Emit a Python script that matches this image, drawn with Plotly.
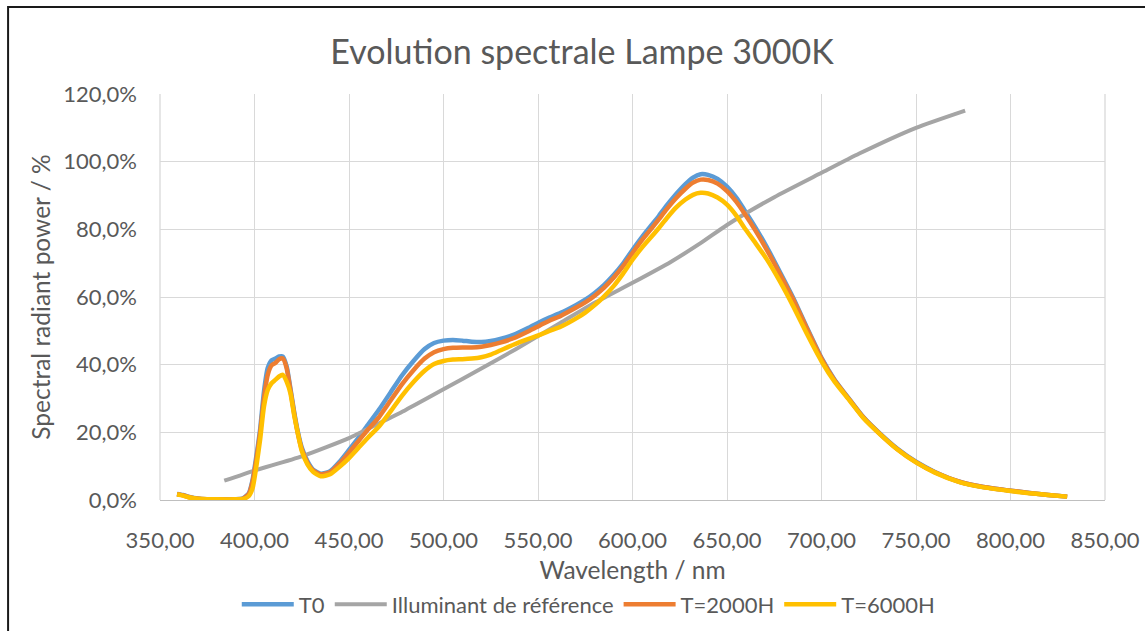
import plotly.graph_objects as go

# Spectral power readings (% of max) for the 3000K lamp at three ageing stages
wl = [359, 362, 365, 368, 372, 380, 390, 394, 397, 399, 401, 403, 405, 407, 409, 411, 413, 415,
      417, 419, 421, 423, 425, 428, 431, 435, 440, 445, 450, 455, 460, 466, 472, 478, 484, 490,
      495, 500, 505, 510, 515, 520, 525, 530, 537, 545, 551, 556, 562, 570, 575, 580, 585, 590, 595,
      600, 605, 610, 614, 618, 623, 628, 632, 636, 640, 645, 650, 655, 659, 665, 671, 678, 685,
      692, 700, 707, 715, 722, 731, 740, 750, 760, 773, 785, 798, 810, 820, 830]
t0 = [1.8, 1.5, 1.0, 0.6, 0.3, 0.2, 0.2, 0.5, 2.0, 6.0, 13.0, 21.0, 32.0, 39.0, 41.3, 41.8, 42.4, 42.4,
      39.5, 33.0, 26.0, 20.0, 15.5, 11.5, 9.0, 7.8, 8.5, 11.3, 14.8, 18.4, 22.2, 26.8, 31.8, 36.8, 41.0, 44.6,
      46.4, 47.1, 47.3, 47.1, 46.8, 46.7, 47.0, 47.6, 48.8, 50.9, 52.6, 53.9, 55.3, 57.6, 59.2, 61.2, 63.6, 66.5, 69.9,
      73.9, 77.7, 81.2, 84.0, 87.0, 90.4, 93.4, 95.3, 96.3, 96.1, 94.9, 92.6, 89.3, 85.9, 80.6, 74.8, 67.4, 59.8,
      51.3, 42.0, 35.5, 29.6, 24.6, 19.6, 15.2, 11.3, 8.3, 5.4, 3.9, 2.9, 2.1, 1.5, 1.0]
t2000 = [1.7, 1.4, 0.9, 0.5, 0.3, 0.2, 0.2, 0.4, 1.8, 5.5, 12.0, 20.0, 30.0, 37.0, 39.8, 40.5, 41.6, 41.8,
         39.0, 32.5, 25.5, 19.5, 15.0, 11.0, 8.7, 7.6, 8.2, 10.8, 14.0, 17.4, 20.8, 24.6, 29.4, 34.2, 38.3, 41.8,
         43.7, 44.6, 45.0, 45.1, 45.1, 45.3, 45.8, 46.5, 47.8, 49.9, 51.6, 53.0, 54.4, 56.8, 58.4, 60.4, 62.8, 65.7, 69.1,
         73.0, 76.8, 80.2, 83.0, 85.9, 89.2, 92.0, 93.8, 94.7, 94.6, 93.5, 91.3, 88.1, 84.9, 79.7, 74.0, 66.8, 59.3,
         51.0, 41.8, 35.3, 29.5, 24.5, 19.5, 15.1, 11.2, 8.2, 5.4, 3.9, 2.9, 2.1, 1.5, 1.0]
t6000 = [1.6, 1.3, 0.8, 0.5, 0.3, 0.2, 0.2, 0.3, 1.2, 3.5, 10.0, 18.0, 27.6, 32.5, 34.5, 35.5, 36.5, 37.0,
         35.0, 31.6, 25.0, 19.5, 14.5, 10.5, 8.3, 7.0, 7.6, 9.8, 12.4, 15.4, 18.4, 21.8, 26.2, 30.8, 34.8, 38.2,
         40.2, 41.1, 41.5, 41.6, 41.8, 42.2, 43.0, 44.2, 45.9, 47.6, 48.8, 50.0, 51.2, 53.6, 55.4, 57.6, 60.2, 63.2, 66.9,
         71.0, 74.6, 77.8, 80.4, 83.2, 86.4, 88.8, 90.2, 90.8, 90.6, 89.4, 87.3, 84.0, 80.6, 76.0, 71.2, 64.6, 57.3,
         49.4, 41.0, 34.9, 29.3, 24.3, 19.4, 15.0, 11.1, 8.1, 5.3, 3.8, 2.8, 2.0, 1.5, 1.0]

# Reference illuminant (blackbody 3000K)
wl_ref = [384, 400, 425, 450, 466, 480, 500, 520, 538, 562, 580, 600, 620, 636, 650, 675, 700, 720, 750, 776]
ref = [5.7, 8.7, 12.9, 18.3, 22.7, 26.6, 32.7, 38.9, 44.5, 52.4, 58.3, 64.2, 70.3, 75.9, 81.3, 89.5, 96.7,
       102.4, 110.0, 115.1]

x_ticks = [350, 400, 450, 500, 550, 600, 650, 700, 750, 800, 850]
y_ticks = [0, 20, 40, 60, 80, 100, 120]
y_ticktext = [f"{v:.1f}%".replace(".", ",") for v in y_ticks]

TEXT = "#595959"
GRID = "#D9D9D9"
FONT = "Lato"
SMOOTH = 0.55

fig = go.Figure()
fig.add_trace(go.Scatter(x=wl, y=t0, name="T0", mode="lines",
                         line=dict(color="#5B9BD5", width=4.5, shape="spline", smoothing=SMOOTH)))
fig.add_trace(go.Scatter(x=wl_ref, y=ref, name="Illuminant de référence", mode="lines",
                         line=dict(color="#A5A5A5", width=4, shape="spline", smoothing=SMOOTH)))
fig.add_trace(go.Scatter(x=wl, y=t2000, name="T=2000H", mode="lines",
                         line=dict(color="#ED7D31", width=4.5, shape="spline", smoothing=SMOOTH)))
fig.add_trace(go.Scatter(x=wl, y=t6000, name="T=6000H", mode="lines",
                         line=dict(color="#FFC000", width=4.5, shape="spline", smoothing=SMOOTH)))

# plot-area geometry in pixels
L, R, T, B = 160, 1105.5, 94, 500.5
W, H = R - L, B - T


def px(x):
    return (x - L) / W


def py(y):
    return (B - y) / H


fig.update_layout(
    width=1145, height=631,
    margin=dict(l=L, r=1145 - R, t=T, b=631 - B, autoexpand=False),
    paper_bgcolor="white", plot_bgcolor="white",
    separators=", ",
    font=dict(family=FONT, color=TEXT, size=22),
    title=dict(text="Evolution spectrale Lampe 3000K", x=582 / 1145, xanchor="center",
               y=1 - 52 / 631, yanchor="middle", xref="container", yref="container",
               font=dict(size=34, color=TEXT, family=FONT)),
    showlegend=True,
    legend=dict(orientation="h", x=px(589), xanchor="center", y=py(605), yanchor="middle",
                font=dict(size=22, color=TEXT, family=FONT), itemwidth=52,
                bgcolor="rgba(0,0,0,0)"),
    hovermode=False,
)
fig.update_xaxes(range=[350, 850], tickvals=x_ticks, tickformat=".2f", automargin=False,
                 showgrid=True, gridcolor=GRID, gridwidth=1.3,
                 showline=True, linecolor="#BFBFBF", linewidth=1.3, mirror=False,
                 zeroline=False, ticks="", ticklabelstandoff=20,
                 title=dict(text="Wavelength / nm", font=dict(size=24.5, color=TEXT), standoff=10),
                 tickfont=dict(size=22, color=TEXT))
fig.update_yaxes(range=[0, 120], tickvals=y_ticks, ticktext=y_ticktext, automargin=False,
                 showgrid=True, gridcolor=GRID, gridwidth=1.3,
                 showline=False, zeroline=False, ticks="", ticklabelstandoff=22,
                 title=dict(text="Spectral radiant power / %", font=dict(size=24.5, color=TEXT), standoff=5),
                 tickfont=dict(size=22, color=TEXT))

# vertical gridlines at the plot edges
fig.add_shape(type="line", xref="paper", yref="paper", x0=0, x1=0, y0=0, y1=1,
              line=dict(color=GRID, width=1.3))
fig.add_shape(type="line", xref="paper", yref="paper", x0=1, x1=1, y0=0, y1=1,
              line=dict(color=GRID, width=1.3))

# chart frame
fig.add_shape(type="rect", xref="paper", yref="paper",
              x0=px(8), x1=px(1160), y0=py(7), y1=py(650),
              line=dict(color="#1A1A1A", width=2), layer="above")

fig.write_html("out.html")
